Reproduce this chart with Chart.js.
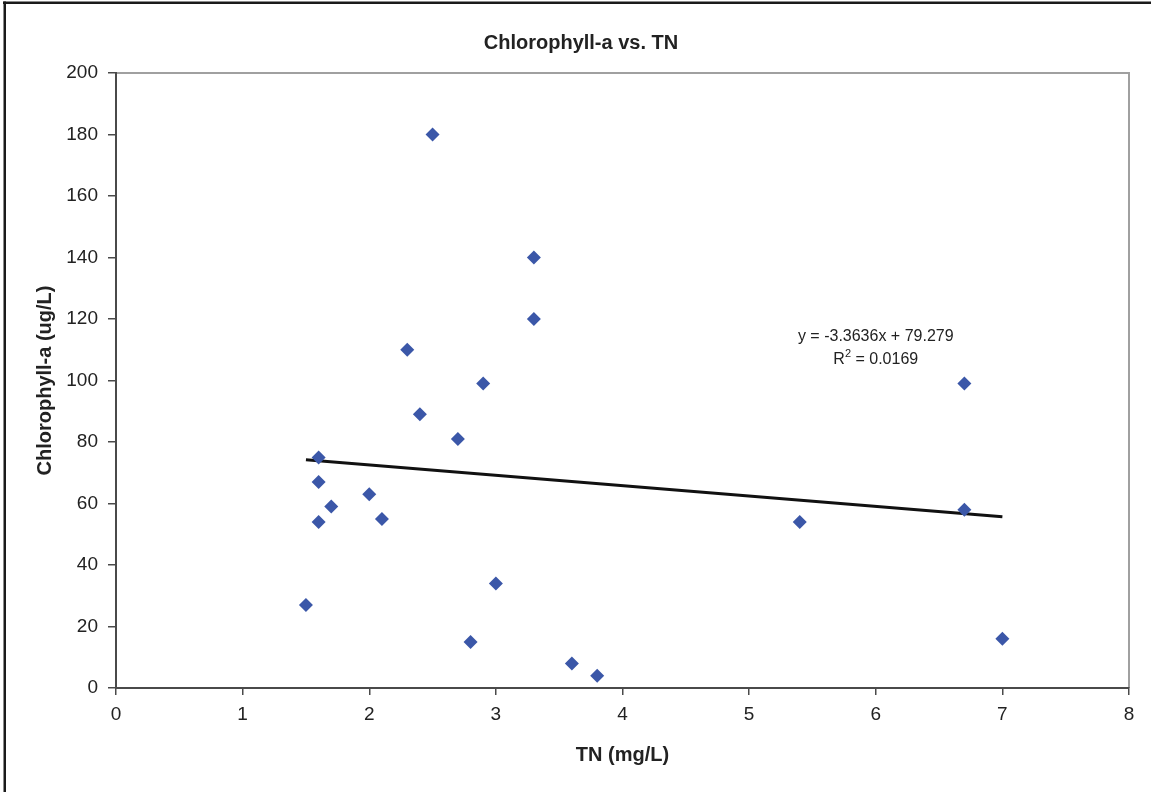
<!DOCTYPE html>
<html lang="en">
<head>
  <meta charset="UTF-8" />
  <title>Chlorophyll-a vs. TN</title>
  <script src="https://cdn.jsdelivr.net/npm/chart.js"></script>
  <style>
    body {
      margin: 0;
      background: #fff;
      overflow: hidden;
    }
    canvas { display: block; }
  </style>
</head>
<body>
  <canvas id="chart" width="1151" height="792"></canvas>

  <script>
    // values
    const tnValues = [1.5, 1.6, 1.6, 1.6, 1.7, 2.0, 2.1, 2.3, 2.4, 2.5, 2.7, 2.8, 2.9, 3.0, 3.3, 3.3, 3.6, 3.8, 5.4, 6.7, 6.7, 7.0];
    const chlValues = [27, 75, 67, 54, 59, 63, 55, 110, 89, 180, 81, 15, 99, 34, 140, 120, 8, 4, 54, 99, 58, 16];

    // linear trendline end points (y = -3.3636x + 79.279)
    const trendX = [1.5, 7.0];
    const trendY = [74.23, 55.73];
    const trendLabel = ['y = -3.3636x + 79.279', '0.0169'];

    const xTicks = [0, 1, 2, 3, 4, 5, 6, 7, 8];
    const yTicks = [0, 20, 40, 60, 80, 100, 120, 140, 160, 180, 200];

    const FONT = "'Liberation Sans', Arial, sans-serif";
    const textColor = '#222';
    const axisColor = '#4a4a4a';

    const extras = {
      id: 'extras',
      beforeDraw(chart) {
        const c = chart.ctx;
        c.save();
        c.fillStyle = '#fff';
        c.fillRect(0, 0, chart.width, chart.height);
        // frame of the original picture (left and top only)
        c.fillStyle = '#1a1a1a';
        c.fillRect(3, 1.5, chart.width, 2.5);
        c.fillRect(3.5, 1.5, 2.5, chart.height);
        // plot area border
        const a = chart.chartArea;
        c.strokeStyle = '#a0a0a0';
        c.lineWidth = 2;
        c.beginPath();
        c.moveTo(a.left, a.top);
        c.lineTo(a.right, a.top);
        c.lineTo(a.right, a.bottom);
        c.stroke();
        c.restore();
      },
      afterDraw(chart) {
        const c = chart.ctx;
        const xs = chart.scales.x, ys = chart.scales.y;
        const cx = xs.getPixelForValue(6.0);
        c.save();
        c.fillStyle = textColor;
        c.font = '16px ' + FONT;
        c.textBaseline = 'middle';
        c.textAlign = 'center';
        c.fillText(trendLabel[0], cx, ys.getPixelForValue(114.4));
        // R² line
        const y2 = ys.getPixelForValue(106.8);
        const rW = c.measureText('R').width;
        c.font = '11px ' + FONT;
        const supW = c.measureText('2').width;
        c.font = '16px ' + FONT;
        const rest = ' = ' + trendLabel[1];
        const restW = c.measureText(rest).width;
        let x0 = cx - (rW + supW + restW) / 2;
        c.textAlign = 'left';
        c.fillText('R', x0, y2);
        c.font = '11px ' + FONT;
        c.fillText('2', x0 + rW, y2 - 6);
        c.font = '16px ' + FONT;
        c.fillText(rest, x0 + rW + supW, y2);
        c.restore();
      }
    };

    const points = tnValues.map((x, i) => ({ x: x, y: chlValues[i] }));
    const trend = trendX.map((x, i) => ({ x: x, y: trendY[i] }));

    new Chart(document.getElementById('chart'), {
      type: 'scatter',
      data: {
        datasets: [
          {
            label: 'Chlorophyll-a',
            data: points,
            pointStyle: 'rectRot',
            pointRadius: 7,
            backgroundColor: '#3b57a8',
            borderColor: '#3b57a8',
            borderWidth: 0
          },
          {
            type: 'line',
            label: 'Linear',
            data: trend,
            borderColor: '#111',
            borderWidth: 3,
            pointRadius: 0,
            fill: false
          }
        ]
      },
      options: {
        responsive: false,
        animation: false,
        devicePixelRatio: 1,
        layout: { padding: { left: 33, right: 22, top: 0, bottom: 0 } },
        plugins: {
          legend: { display: false },
          tooltip: { enabled: false },
          title: {
            display: true,
            text: 'Chlorophyll-a vs. TN',
            color: textColor,
            font: { family: FONT, size: 20, weight: 'bold' },
            padding: { top: 31, bottom: 18 }
          }
        },
        scales: {
          x: {
            type: 'linear',
            min: 0,
            max: 8,
            afterBuildTicks: s => { s.ticks = xTicks.map(v => ({ value: v })); },
            afterFit: s => { s.height = 792 - 688; },
            grid: { drawOnChartArea: false, drawTicks: true, tickLength: 7, color: axisColor, lineWidth: 1.5 },
            border: { display: true, color: axisColor, width: 2 },
            ticks: { color: textColor, padding: 8, font: { family: FONT, size: 19 }, maxRotation: 0 },
            title: {
              display: true,
              text: 'TN (mg/L)',
              color: textColor,
              font: { family: FONT, size: 20, weight: 'bold' },
              padding: { top: 0, bottom: 25 }
            }
          },
          y: {
            type: 'linear',
            min: 0,
            max: 200,
            afterBuildTicks: s => { s.ticks = yTicks.map(v => ({ value: v })); },
            afterFit: s => { s.width = 116 - 33; },
            grid: { drawOnChartArea: false, drawTicks: true, tickLength: 8, color: axisColor, lineWidth: 1.5 },
            border: { display: true, color: axisColor, width: 2 },
            ticks: { color: textColor, padding: 10, font: { family: FONT, size: 19 } },
            title: {
              display: true,
              text: 'Chlorophyll-a (ug/L)',
              color: textColor,
              font: { family: FONT, size: 20, weight: 'bold' },
              padding: { top: 0, bottom: 0 }
            }
          }
        }
      },
      plugins: [extras]
    });
  </script>
</body>
</html>
